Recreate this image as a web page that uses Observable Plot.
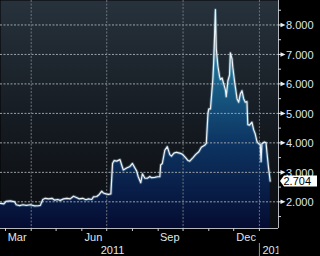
<!DOCTYPE html>
<html><head><meta charset="utf-8">
<script src="https://cdn.jsdelivr.net/npm/d3@7"></script>
<script src="https://cdn.jsdelivr.net/npm/@observablehq/plot@0.6"></script>
<style>html,body{margin:0;padding:0;background:#000;overflow:hidden}</style>
</head><body><div id="chart"></div>
<script>
const dates = ["2011-02-23","2011-02-27","2011-03-02","2011-03-07","2011-03-12","2011-03-14","2011-03-18","2011-03-22","2011-03-26","2011-03-31",
"2011-04-05","2011-04-10","2011-04-12","2011-04-15","2011-04-18","2011-04-22","2011-04-26","2011-04-29","2011-05-03","2011-05-06",
"2011-05-10","2011-05-14","2011-05-18","2011-05-22","2011-05-26","2011-05-29","2011-06-02","2011-06-06","2011-06-09","2011-06-13",
"2011-06-15","2011-06-19","2011-06-22","2011-06-25","2011-06-27","2011-06-30","2011-07-03","2011-07-06","2011-07-08","2011-07-10",
"2011-07-13","2011-07-17","2011-07-19","2011-07-21","2011-07-25","2011-07-29","2011-08-01","2011-08-04","2011-08-06","2011-08-08",
"2011-08-11","2011-08-13","2011-08-16","2011-08-19","2011-08-22","2011-08-24","2011-08-28","2011-08-31","2011-09-03","2011-09-04",
"2011-09-06","2011-09-09","2011-09-12","2011-09-15","2011-09-17","2011-09-20","2011-09-23","2011-09-27","2011-09-30","2011-10-04",
"2011-10-07","2011-10-09","2011-10-13","2011-10-16","2011-10-20","2011-10-23","2011-10-27","2011-10-29","2011-10-31","2011-11-01",
"2011-11-03","2011-11-06","2011-11-07","2011-11-09","2011-11-10","2011-11-12","2011-11-14","2011-11-15","2011-11-17","2011-11-19",
"2011-11-21","2011-11-22","2011-11-24","2011-11-26","2011-11-27","2011-11-29","2011-11-30","2011-12-02","2011-12-03","2011-12-05",
"2011-12-07","2011-12-09","2011-12-11","2011-12-13","2011-12-15","2011-12-17","2011-12-18","2011-12-20","2011-12-23","2011-12-25",
"2011-12-27","2011-12-29","2011-12-31","2012-01-02","2012-01-03","2012-01-04","2012-01-07","2012-01-09","2012-01-10","2012-01-12",
"2012-01-14"];
const values = [1.95,1.93,2.02,2.03,2.0,1.9,1.87,1.9,1.88,1.9,
1.86,1.87,1.88,2.08,2.12,2.1,2.12,2.06,2.08,2.05,
2.1,2.12,2.1,2.19,2.14,2.1,2.12,2.07,2.1,2.08,
2.17,2.18,2.25,2.36,2.3,2.27,2.25,2.27,3.3,3.4,
3.38,3.43,3.25,3.08,3.15,3.2,3.3,3.15,3.05,2.85,
2.65,2.95,2.8,2.8,2.86,2.82,2.83,2.85,2.85,3.25,
3.3,3.75,3.87,3.6,3.55,3.65,3.68,3.65,3.62,3.5,
3.4,3.38,3.5,3.6,3.7,3.85,3.92,3.98,5.0,5.15,
5.15,6.2,6.8,8.52,7.2,6.6,6.25,6.15,6.2,6.0,
5.8,5.57,6.1,6.3,7.05,6.85,6.55,6.1,5.9,5.5,
5.38,5.66,5.77,5.5,5.38,5.4,4.62,4.6,4.7,4.45,
4.3,4.05,3.97,3.95,3.36,3.97,4.03,4.0,3.69,3.15,
2.704];
const yTicks = [2,3,4,5,6,7,8,9];
const yMinorTicks = [1.5,2.5,3.5,4.5,5.5,6.5,7.5,8.5];
const quarterLines = ["2011-04-01","2011-07-01","2011-10-01","2012-01-01"];
const monthStarts = ["2011-03-01","2011-04-01","2011-05-01","2011-06-01","2011-07-01","2011-08-01","2011-09-01","2011-10-01","2011-11-01","2011-12-01","2012-01-01"];
const monthLabelDates = ["2011-03-15","2011-06-15","2011-09-15","2011-12-16"];
const monthLabels = ["Mar","Jun","Sep","Dec"];
const yearLabelDates = ["2011-07-08","2012-01-01"];
const yearLabels = ["2011","2012"];
const yearBreaks = ["2012-01-01"];

const parse = d3.utcParse("%Y-%m-%d");
const series = dates.map((d, i) => ({date: parse(d), value: values[i]}));
const last = series[series.length - 1];
const years = yearLabelDates.map((d, i) => ({date: parse(d), label: yearLabels[i]}));
const xDomain = [parse("2011-02-23"), parse("2012-01-24")];
const yDomain = [1.095, 8.83];
const W = 320, H = 256, mR = 42, mB = 28;
const fmt = d3.format(".3f");

const tagSymbol = {draw(ctx) { ctx.moveTo(0, 0); ctx.lineTo(4, -5.5); ctx.lineTo(37, -5.5); ctx.lineTo(37, 5.5); ctx.lineTo(4, 5.5); ctx.closePath(); }};
const tickSymbol = {draw(ctx) { ctx.moveTo(-2.5, -2.3); ctx.lineTo(2.5, 0); ctx.lineTo(-2.5, 2.3); ctx.closePath(); }};

const defsMark = () => {
  const defs = d3.create("svg:defs");
  const bg = defs.append("linearGradient").attr("id", "bgGrad").attr("gradientUnits", "userSpaceOnUse")
    .attr("x1", 0).attr("x2", 0).attr("y1", 0).attr("y2", H - mB);
  bg.append("stop").attr("offset", 0).attr("stop-color", "#27323c");
  bg.append("stop").attr("offset", 0.5).attr("stop-color", "#161c23");
  bg.append("stop").attr("offset", 1).attr("stop-color", "#0a0c0f");
  const ar = defs.append("linearGradient").attr("id", "areaGrad").attr("gradientUnits", "userSpaceOnUse")
    .attr("x1", 0).attr("x2", 0).attr("y1", 0).attr("y2", H - mB);
  ar.append("stop").attr("offset", 0).attr("stop-color", "#3a9cc2");
  ar.append("stop").attr("offset", 0.3).attr("stop-color", "#1c6a90");
  ar.append("stop").attr("offset", 0.62).attr("stop-color", "#0d3563");
  ar.append("stop").attr("offset", 1).attr("stop-color", "#050c32");
  defs.append("clipPath").attr("id", "plotClipX").attr("clipPathUnits", "userSpaceOnUse").append("rect")
    .attr("x", -10).attr("y", -100).attr("width", W - mR + 10.5).attr("height", H + 200);
  return defs.node();
};

const chart = Plot.plot({
  width: W, height: H,
  marginLeft: 0, marginRight: mR, marginTop: 0, marginBottom: mB,
  style: {background: "#000", fontFamily: "'Liberation Sans', Arial, sans-serif", fontSize: "11px", overflow: "hidden"},
  x: {type: "utc", domain: xDomain, axis: null},
  y: {domain: yDomain, axis: null},
  marks: [
    defsMark,
    Plot.frame({fill: "url(#bgGrad)", stroke: "none"}),
    Plot.areaY(series, {x: "date", y1: yDomain[0], y2: "value", fill: "url(#areaGrad)"}),
    Plot.ruleY(yTicks.filter(v => v < yDomain[1]), {stroke: "#9aa1a8", strokeWidth: 1, strokeDasharray: "2,1.5"}),
    Plot.ruleX(quarterLines.map(parse), {stroke: "#6d747b", strokeWidth: 1, strokeDasharray: "2,1.5"}),
    Plot.line(series, {x: "date", y: "value", stroke: "#9fd4ee", strokeWidth: 3, strokeOpacity: 0.3}),
    Plot.line(series, {x: "date", y: "value", stroke: "#eef2f5", strokeWidth: 1.2}),
    Plot.ruleX([xDomain[1]], {stroke: "#b4b8bc", strokeWidth: 1}),
    Plot.ruleY([yDomain[0]], {stroke: "#b4b8bc", strokeWidth: 1}),
    Plot.ruleY(yTicks, {x1: xDomain[1], x2: xDomain[1], insetRight: -4, stroke: "#e4eaf0"}),
    Plot.ruleY(yMinorTicks, {x1: xDomain[1], x2: xDomain[1], insetRight: -3, stroke: "#d0d6dc"}),
    Plot.dot(yTicks, {x: xDomain[1], y: d => d, symbol: tickSymbol, fill: "#e8eef4", stroke: "none", dx: 4.5}),
    Plot.text(yTicks, {x: xDomain[1], y: d => d, text: d => fmt(d), dx: 7.5, dy: 0.7, textAnchor: "start", fill: "#dbe5ef", fontSize: 11}),
    Plot.ruleX(monthStarts.map(parse), {y1: yDomain[0], y2: yDomain[0], insetBottom: -3, stroke: "#c8cdd2"}),
    Plot.text(monthLabelDates.map((d, i) => ({date: parse(d), label: monthLabels[i]})), {x: "date", y: yDomain[0], text: "label", dy: 9, fill: "#dfe6ee", fontSize: 11}),
    Plot.ruleX(yearBreaks.map(parse), {y1: yDomain[0], y2: yDomain[0], insetTop: 15, insetBottom: -28, stroke: "#8a8f94"}),
    Plot.text(years.slice(0, 1), {x: "date", y: yDomain[0], text: "label", dy: 22, textAnchor: "middle", fill: "#dfe6ee", fontSize: 11}),
    Plot.text(years.slice(1), {x: "date", y: yDomain[0], text: "label", dy: 22, dx: 3, textAnchor: "start", fill: "#dfe6ee", fontSize: 11, ariaDescription: "year-2012"}),
    Plot.dot([last], {x: xDomain[1], y: "value", symbol: tagSymbol, fill: "#ffffff", stroke: "none", dx: 1.5}),
    Plot.text([last], {x: xDomain[1], y: "value", text: d => fmt(d.value), dx: 5, dy: 0.8, textAnchor: "start", fill: "#000", fontSize: 11})
  ]
});
document.getElementById("chart").appendChild(chart);
// the next year's label is cut off at the right edge of the plot frame, as in the original
const yg = d3.select(chart).select('g[aria-description="year-2012"]');
if (!yg.empty()) {
  const node = yg.node();
  const wrap = document.createElementNS("http://www.w3.org/2000/svg", "g");
  wrap.setAttribute("clip-path", "url(#plotClipX)");
  node.parentNode.insertBefore(wrap, node);
  wrap.appendChild(node);
}
</script>
</body></html>
